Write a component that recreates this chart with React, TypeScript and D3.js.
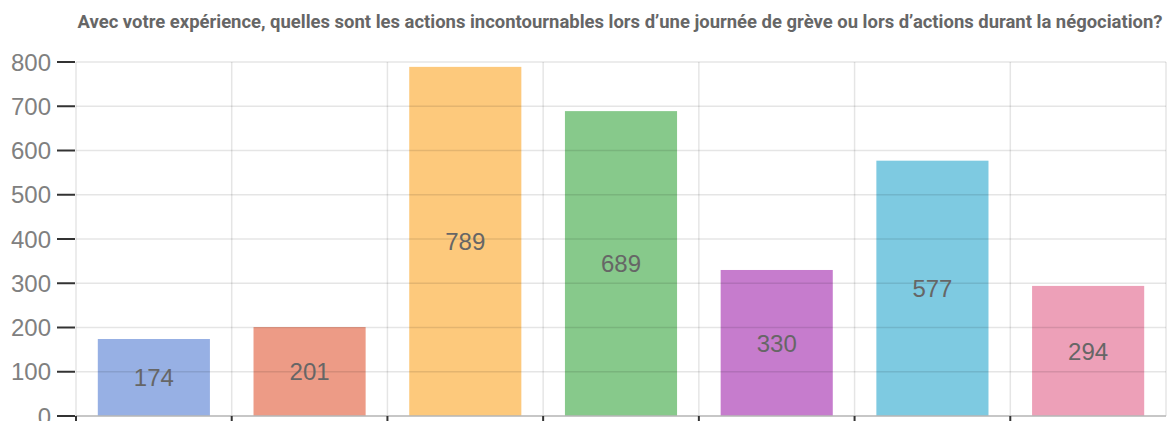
import React from 'react';
import * as d3 from 'd3';

const categories = ['A', 'B', 'C', 'D', 'E', 'F', 'G'];
const values = [174, 201, 789, 689, 330, 577, 294];
const colors = ['#97b0e4', '#ed9b86', '#fdc97c', '#87c98b', '#c67ccd', '#7ecae1', '#eda0b8'];
const yTicks = [0, 100, 200, 300, 400, 500, 600, 700, 800];
const title = 'Avec votre expérience, quelles sont les actions incontournables lors d’une journée de grève ou lors d’actions durant la négociation?';

const W = 1167, H = 421;
const left = 76, right = 1166, top = 62, bottom = 416;

const App = () => {
  const x = d3.scaleBand<string>()
    .domain(categories)
    .range([left, right])
    .paddingInner(0.28)
    .paddingOuter(0.14);
  const step = x.step();
  const y = d3.scaleLinear().domain([0, 800]).range([bottom, top]);
  const bounds = d3.range(categories.length + 1).map(i => left + i * step);

  return (
    <div style={{ position: 'absolute', left: 0, top: 0 }}>
      <svg width={W} height={H} style={{ display: 'block', background: '#fff' }}>
        <text x={620} y={28} textAnchor="middle"
          fontFamily="'Roboto', 'Liberation Sans', sans-serif" fontWeight="bold"
          fontSize={18} fill="#666" textLength={1085} lengthAdjust="spacingAndGlyphs">{title}</text>

        {values.map((v, i) => (
          <rect key={i} x={x(categories[i])} y={y(v)} width={x.bandwidth()} height={bottom - y(v)}
            fill={colors[i]} />
        ))}

        {/* grid */}
        {yTicks.map(t => (
          <line key={'h' + t} x1={left} x2={right} y1={y(t)} y2={y(t)} stroke="#000" strokeOpacity={0.1} strokeWidth={1.5} />
        ))}
        {bounds.map((b, i) => (
          <line key={'v' + i} x1={b} x2={b} y1={top} y2={bottom} stroke="#000" strokeOpacity={0.1} strokeWidth={1.5} />
        ))}
        <line x1={left} x2={right} y1={bottom} y2={bottom} stroke="#bbb" strokeWidth={1.5} />

        {/* y ticks */}
        {yTicks.map(t => (
          <g key={'t' + t}>
            <line x1={57} x2={75} y1={y(t)} y2={y(t)} stroke="#333" strokeWidth={2} />
            <text x={51} y={y(t)} dy="0.36em" textAnchor="end" fontFamily="'Liberation Sans', Arial, sans-serif"
              fontSize={24} fill="#808080">{t}</text>
          </g>
        ))}
        {bounds.slice(0, -1).map((b, i) => (
          <line key={'xt' + i} x1={b} x2={b} y1={bottom} y2={H} stroke="#333" strokeWidth={2} />
        ))}

        {values.map((v, i) => (
          <text key={'l' + i} x={(x(categories[i]) ?? 0) + x.bandwidth() / 2} y={(y(v) + bottom) / 2} dy="0.36em"
            textAnchor="middle" fontFamily="'Liberation Sans', Arial, sans-serif" fontSize={24} fill="#666">{v}</text>
        ))}
      </svg>
    </div>
  );
};

export default App;
